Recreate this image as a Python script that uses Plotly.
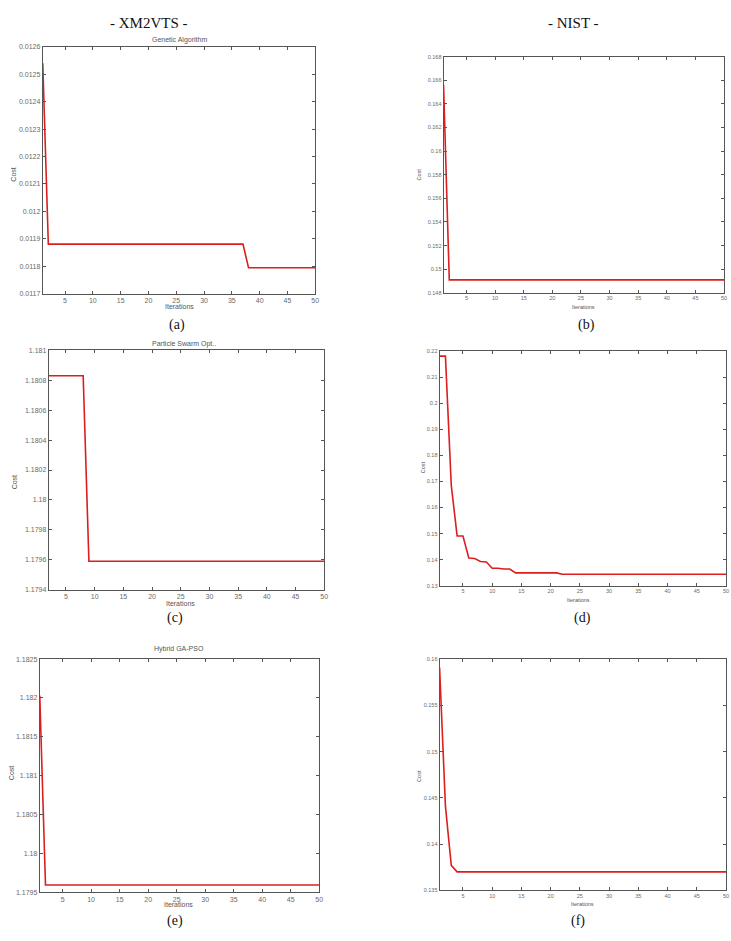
import plotly.graph_objects as go

W, H = 731, 941

# ---------------- data ----------------
iters_a = [1, 2, 37, 38, 50]
cost_a = [0.012540, 0.011881, 0.011881, 0.011795, 0.011795]

iters_b = [1, 2, 50]
cost_b = [0.1656, 0.1491, 0.1491]

iters_c = [1, 8, 9, 50]
cost_c = [1.18083, 1.18083, 1.17959, 1.17959]

iters_d = [1, 2, 3, 4, 5, 6, 7, 8, 9, 10, 11, 12, 13, 14, 21, 22, 50]
cost_d = [0.2182, 0.2182, 0.1685, 0.1491, 0.1491, 0.1406, 0.1404, 0.1393,
          0.1391, 0.1367, 0.1367, 0.1364, 0.1364, 0.1349, 0.1349, 0.1344, 0.1344]

iters_e = [1, 2, 50]
cost_e = [1.18203, 1.179594, 1.179594]

iters_f = [1, 2, 3, 4, 50]
cost_f = [0.1591, 0.1441, 0.1377, 0.1370, 0.1370]

x_ticks = [5, 10, 15, 20, 25, 30, 35, 40, 45, 50]
x_ticklabels = ["5", "10", "15", "20", "25", "30", "35", "40", "45", "50"]

yticks_a = [0.0117, 0.0118, 0.0119, 0.0120, 0.0121, 0.0122, 0.0123, 0.0124, 0.0125, 0.0126]
ylabels_a = ["0.0117", "0.0118", "0.0119", "0.012", "0.0121", "0.0122", "0.0123", "0.0124", "0.0125", "0.0126"]

yticks_b = [0.148, 0.150, 0.152, 0.154, 0.156, 0.158, 0.160, 0.162, 0.164, 0.166, 0.168]
ylabels_b = ["0.148", "0.15", "0.152", "0.154", "0.156", "0.158", "0.16", "0.162", "0.164", "0.166", "0.168"]

yticks_c = [1.1794, 1.1796, 1.1798, 1.1800, 1.1802, 1.1804, 1.1806, 1.1808, 1.1810]
ylabels_c = ["1.1794", "1.1796", "1.1798", "1.18", "1.1802", "1.1804", "1.1806", "1.1808", "1.181"]

yticks_d = [0.13, 0.14, 0.15, 0.16, 0.17, 0.18, 0.19, 0.20, 0.21, 0.22]
ylabels_d = ["0.13", "0.14", "0.15", "0.16", "0.17", "0.18", "0.19", "0.2", "0.21", "0.22"]

yticks_e = [1.1795, 1.1800, 1.1805, 1.1810, 1.1815, 1.1820, 1.1825]
ylabels_e = ["1.1795", "1.18", "1.1805", "1.181", "1.1815", "1.182", "1.1825"]

yticks_f = [0.135, 0.140, 0.145, 0.150, 0.155, 0.160]
ylabels_f = ["0.135", "0.14", "0.145", "0.15", "0.155", "0.16"]

titles = ["Genetic Algorithm", "", "Particle Swarm Opt..", "", "Hybrid GA-PSO", ""]
captions = ["(a)", "(b)", "(c)", "(d)", "(e)", "(f)"]

# ---------------- layout helpers ----------------
def fx(px):
    return px / W

def fy(py):
    return 1 - py / H

panels = [
    dict(x=iters_a, y=cost_a, box=(43, 317, 43, 292), xr=(1, 50), yr=(0.0117, 0.0126),
         yt=yticks_a, yl=ylabels_a, fs=7, title_xy=(180, 36), xl_xy=(180, 305), yl_xy=(14, 172), cap_xy=(178, 323)),
    dict(x=iters_b, y=cost_b, box=(446, 728, 53, 291), xr=(1, 50), yr=(0.148, 0.168),
         yt=yticks_b, yl=ylabels_b, fs=5.5, title_xy=(587, 45), xl_xy=(587, 305), yl_xy=(421, 172), cap_xy=(590, 323)),
    dict(x=iters_c, y=cost_c, box=(49, 326, 349, 590), xr=(2, 50), yr=(1.1794, 1.1810),
         yt=yticks_c, yl=ylabels_c, fs=7, title_xy=(185, 343), xl_xy=(181, 604), yl_xy=(14, 482), cap_xy=(176, 619)),
    dict(x=iters_d, y=cost_d, box=(442, 730, 350, 586), xr=(1, 50), yr=(0.13, 0.22),
         yt=yticks_d, yl=ylabels_d, fs=5.5, title_xy=(586, 343), xl_xy=(582, 600), yl_xy=(425, 467), cap_xy=(586, 619)),
    dict(x=iters_e, y=cost_e, box=(40, 321, 660, 895), xr=(1, 50), yr=(1.1795, 1.1825),
         yt=yticks_e, yl=ylabels_e, fs=7, title_xy=(180, 650), xl_xy=(179, 907), yl_xy=(11, 775), cap_xy=(176, 924)),
    dict(x=iters_f, y=cost_f, box=(442, 730, 660, 893), xr=(1, 50), yr=(0.135, 0.160),
         yt=yticks_f, yl=ylabels_f, fs=5.5, title_xy=(586, 650), xl_xy=(586, 907), yl_xy=(422, 778), cap_xy=(581, 924)),
]

fig = go.Figure()
annotations = []
tick_color = "#6a6a6a"
axis_color = "#555555"

for i, p in enumerate(panels):
    n = "" if i == 0 else str(i + 1)
    l, r, t, b = p["box"]
    fig.add_trace(go.Scatter(
        x=p["x"], y=p["y"], mode="lines",
        line=dict(color="#dc1e1e", width=1.6),
        xaxis="x" + n, yaxis="y" + n, showlegend=False, hoverinfo="skip",
    ))
    fig.layout["xaxis" + n] = dict(
        domain=[fx(l), fx(r)], anchor="y" + n, range=list(p["xr"]),
        tickmode="array", tickvals=x_ticks, ticktext=x_ticklabels,
        ticks="inside", ticklen=3, tickcolor=axis_color, tickwidth=1,
        showline=True, linecolor=axis_color, linewidth=1, mirror="ticks",
        showgrid=False, zeroline=False,
        tickfont=dict(family="Liberation Sans, Arial", size=p["fs"], color=tick_color),
    )
    fig.layout["yaxis" + n] = dict(
        domain=[fy(b), fy(t)], anchor="x" + n, range=list(p["yr"]),
        tickmode="array", tickvals=p["yt"], ticktext=p["yl"],
        ticks="inside", ticklen=3, tickcolor=axis_color, tickwidth=1,
        showline=True, linecolor=axis_color, linewidth=1, mirror="ticks",
        showgrid=False, zeroline=False,
        tickfont=dict(family="Liberation Sans, Arial", size=p["fs"], color=tick_color),
    )
    if titles[i]:
        annotations.append(dict(
            text=titles[i], x=fx(p["title_xy"][0]), y=fy(p["title_xy"][1]),
            xref="paper", yref="paper", showarrow=False, xanchor="center", yanchor="middle",
            font=dict(family="Liberation Sans, Arial", size=7, color="#555555"),
        ))
    annotations.append(dict(
        text="Iterations", x=fx(p["xl_xy"][0]), y=fy(p["xl_xy"][1]),
        xref="paper", yref="paper", showarrow=False, xanchor="center", yanchor="middle",
        font=dict(family="Liberation Sans, Arial", size=p["fs"], color="#555555"),
    ))
    annotations.append(dict(
        text="Cost", x=fx(p["yl_xy"][0]), y=fy(p["yl_xy"][1]), textangle=-90,
        xref="paper", yref="paper", showarrow=False, xanchor="center", yanchor="middle",
        font=dict(family="Liberation Sans, Arial", size=p["fs"], color="#555555"),
    ))
    annotations.append(dict(
        text=captions[i], x=fx(p["cap_xy"][0]), y=fy(p["cap_xy"][1]),
        xref="paper", yref="paper", showarrow=False, xanchor="center", yanchor="middle",
        font=dict(family="Liberation Serif, Times New Roman", size=14, color="#111111"),
    ))

annotations.append(dict(
    text="- XM2VTS -", x=fx(150), y=fy(19), xref="paper", yref="paper", showarrow=False,
    xanchor="center", yanchor="middle",
    font=dict(family="Liberation Serif, Times New Roman", size=15, color="#111111"),
))
annotations.append(dict(
    text="- NIST -", x=fx(577), y=fy(19), xref="paper", yref="paper", showarrow=False,
    xanchor="center", yanchor="middle",
    font=dict(family="Liberation Serif, Times New Roman", size=15, color="#111111"),
))

fig.update_layout(
    width=W, height=H, margin=dict(l=0, r=0, t=0, b=0),
    paper_bgcolor="white", plot_bgcolor="white",
    annotations=annotations, showlegend=False,
)

fig.write_html("out.html")
